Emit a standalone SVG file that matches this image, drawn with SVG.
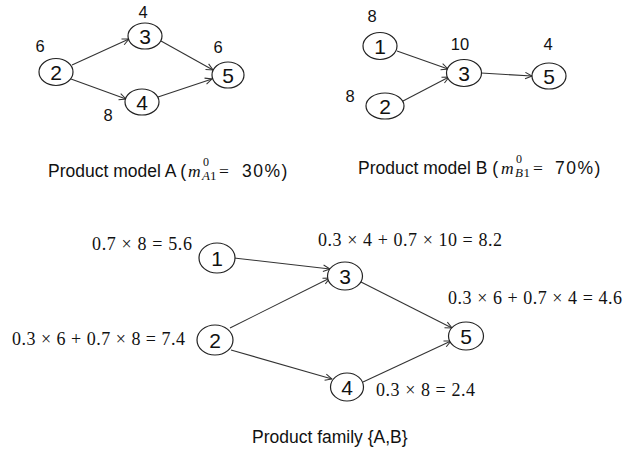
<svg xmlns="http://www.w3.org/2000/svg" width="623" height="455" viewBox="0 0 623 455">
<style>
.n ellipse{fill:#fff;stroke:#222;stroke-width:1.2}
.n text{font-family:"Liberation Sans",Arial,sans-serif;font-size:21px;fill:#111;text-anchor:middle}
.lbl{font-family:"Liberation Sans",Arial,sans-serif;font-size:16.5px;fill:#111;text-anchor:middle}
.cap{font-family:"Liberation Sans",Arial,sans-serif;font-size:17.5px;fill:#111}
.mi{font-family:"Liberation Serif","Times New Roman",serif;font-style:italic}
.ms{font-family:"Liberation Serif","Times New Roman",serif}
.fm{font-family:"Liberation Serif","Times New Roman",serif;font-size:18px;fill:#111}
.e line{stroke:#333;stroke-width:1.1;marker-end:url(#arr)}
</style>
<defs>
<marker id="arr" viewBox="0 0 10 10" refX="9.5" refY="5" markerWidth="8" markerHeight="8" orient="auto" markerUnits="userSpaceOnUse">
<path d="M1,1 L9.5,5 L1,9" fill="none" stroke="#333" stroke-width="1.3"/>
</marker>
</defs>
<rect width="623" height="455" fill="#fff"/>

<g id="connectors" class="e">
<line x1="72" y1="65" x2="129" y2="39"/>
<line x1="71" y1="79" x2="126" y2="99"/>
<line x1="161" y1="41" x2="213" y2="70"/>
<line x1="158" y1="97" x2="212" y2="79"/>
<line x1="397" y1="51" x2="448" y2="69"/>
<line x1="403" y1="101" x2="449" y2="77"/>
<line x1="481" y1="73" x2="532" y2="76"/>
<line x1="234" y1="258" x2="330" y2="269"/>
<line x1="230" y1="328" x2="330" y2="278"/>
<line x1="231" y1="350" x2="332" y2="379"/>
<line x1="361" y1="282" x2="452" y2="328"/>
<line x1="363" y1="382" x2="451" y2="341"/>
</g>

<g id="A-2" class="n"><ellipse cx="56" cy="72" rx="17" ry="13.5"/><text x="56" y="79.5">2</text></g>
<g id="A-3" class="n"><ellipse cx="145" cy="36" rx="17" ry="13"/><text x="145" y="43.5">3</text></g>
<g id="A-4" class="n"><ellipse cx="142" cy="102" rx="17" ry="13"/><text x="142" y="109.5">4</text></g>
<g id="A-5" class="n"><ellipse cx="228" cy="75" rx="16" ry="13"/><text x="228" y="82.5">5</text></g>

<g id="B-1" class="n"><ellipse cx="380" cy="46" rx="17" ry="13.5"/><text x="380" y="53.5">1</text></g>
<g id="B-2" class="n"><ellipse cx="385" cy="106" rx="19" ry="13"/><text x="385" y="113.5">2</text></g>
<g id="B-3" class="n"><ellipse cx="464" cy="73" rx="17.5" ry="13.5"/><text x="464" y="80.5">3</text></g>
<g id="B-5" class="n"><ellipse cx="549" cy="76" rx="17" ry="13"/><text x="549" y="83.5">5</text></g>

<g id="F-1" class="n"><ellipse cx="217" cy="258" rx="18" ry="15"/><text x="217" y="265.5">1</text></g>
<g id="F-2" class="n"><ellipse cx="215" cy="340" rx="18" ry="15"/><text x="215" y="347.5">2</text></g>
<g id="F-3" class="n"><ellipse cx="345" cy="276" rx="17.5" ry="14"/><text x="345" y="283.5">3</text></g>
<g id="F-4" class="n"><ellipse cx="347" cy="387" rx="16.5" ry="14"/><text x="347" y="394.5">4</text></g>
<g id="F-5" class="n"><ellipse cx="466" cy="336" rx="17.5" ry="14"/><text x="466" y="343.5">5</text></g>

<g id="labels">
<text class="lbl" x="40" y="52">6</text>
<text class="lbl" x="143" y="18">4</text>
<text class="lbl" x="218" y="53">6</text>
<text class="lbl" x="108" y="121">8</text>
<text class="lbl" x="372" y="22">8</text>
<text class="lbl" x="460" y="50">10</text>
<text class="lbl" x="548" y="50">4</text>
<text class="lbl" x="350" y="102">8</text>

<text class="fm" x="92" y="250" textLength="100" lengthAdjust="spacing">0.7 × 8 = 5.6</text>
<text class="fm" x="12" y="345" textLength="173" lengthAdjust="spacing">0.3 × 6 + 0.7 × 8 = 7.4</text>
<text class="fm" x="318" y="246" textLength="184" lengthAdjust="spacing">0.3 × 4 + 0.7 × 10 = 8.2</text>
<text class="fm" x="448" y="304" textLength="174" lengthAdjust="spacing">0.3 × 6 + 0.7 × 4 = 4.6</text>
<text class="fm" x="376" y="396" textLength="99" lengthAdjust="spacing">0.3 × 8 = 2.4</text>
</g>

<g id="captions">
<text class="cap" y="177"><tspan x="48">Product model A (</tspan><tspan class="mi" x="188">m</tspan><tspan class="ms" x="203" y="166" font-size="12">0</tspan><tspan class="mi" x="202" y="180" font-size="13">A</tspan><tspan class="ms" x="210" y="180" font-size="13">1</tspan><tspan class="ms" x="219" y="177">=</tspan><tspan x="242" y="177" letter-spacing="1.5">30%)</tspan></text>
<text class="cap" y="174"><tspan x="358">Product model B (</tspan><tspan class="mi" x="501">m</tspan><tspan class="ms" x="516" y="163" font-size="12">0</tspan><tspan class="mi" x="515" y="177" font-size="13">B</tspan><tspan class="ms" x="523.5" y="177" font-size="13">1</tspan><tspan class="ms" x="533" y="174">=</tspan><tspan x="555" y="174" letter-spacing="1.5">70%)</tspan></text>
<text class="cap" x="252" y="443">Product family {A,B}</text>
</g>
</svg>
